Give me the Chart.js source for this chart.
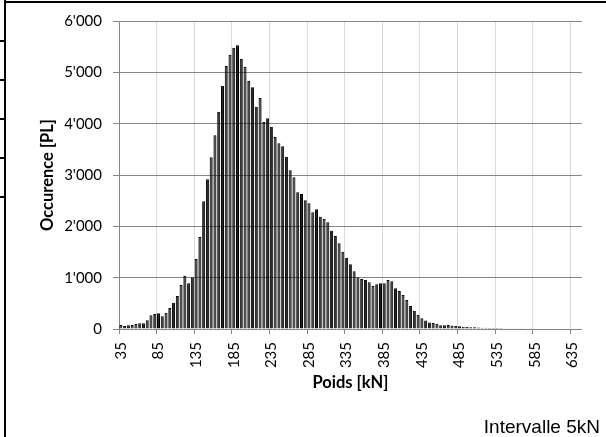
<!DOCTYPE html>
<html>
<head>
<meta charset="utf-8">
<script src="https://cdn.jsdelivr.net/npm/chart.js@4.4.1/dist/chart.umd.min.js"></script>
<style>
  html, body { margin: 0; padding: 0; background: #fff; }
  canvas { display: block; }
</style>
</head>
<body>

<canvas id="poidsChart" width="606" height="437"></canvas>

<script>

// classes de poids (kN), pas de 5kN
const classes = [];
for (let p = 35; p <= 645; p += 5) classes.push(String(p));

// nombre de PL par classe
const occurences = [
  78, 58, 75, 80, 95, 110, 110, 170, 266, 292,
  305, 250, 318, 410, 510, 643, 857, 1039, 890, 1006,
  1370, 1792, 2487, 2916, 3344, 3773, 4234, 4740, 5123, 5344,
  5481, 5526, 5260, 5110, 4838, 4708, 4331, 4500, 4032, 4104,
  3942, 3740, 3617, 3558, 3357, 3091, 2955, 2662, 2630, 2506,
  2448, 2273, 2331, 2188, 2149, 2078, 1916, 1812, 1669, 1506,
  1390, 1260, 1123, 1006, 974, 955, 909, 838, 870, 890,
  890, 955, 929, 792, 740, 662, 565, 448, 357, 280,
  210, 165, 127, 117, 104, 75, 72, 78, 70, 62,
  52, 45, 40, 34, 32, 28, 26, 25, 20, 20,
  18, 18, 17, 16, 15, 14, 15, 13, 12, 14,
  12, 11, 12, 10, 11, 10, 12, 9, 10, 11,
  9, 10, 8
];

const yTicks = [0, 1000, 2000, 3000, 4000, 5000, 6000];

function milliers(v) {
  return String(v).replace(/\B(?=(\d{3})+(?!\d))/g, "'");
}

// bordure du tableau autour du graphique + note en bas à droite
const cadre = {
  id: 'cadre',
  afterDraw(chart) {
    const ctx = chart.ctx;
    ctx.save();
    ctx.fillStyle = '#000';
    ctx.fillRect(4, 1, 602, 2);
    ctx.fillRect(4, 0, 2, 437);
    [40, 79, 118, 157, 196].forEach(y => ctx.fillRect(0, y, 5, 2));
    ctx.font = '19px "Liberation Sans", Arial, sans-serif';
    ctx.textAlign = 'right';
    ctx.textBaseline = 'alphabetic';
    ctx.fillText('Intervalle 5kN', 600, 433);
    ctx.restore();
  }
};

const grisAxe = '#868686';
const grisGrille = '#d9d9d9';

new Chart(document.getElementById('poidsChart'), {
  type: 'bar',
  data: {
    labels: classes,
    datasets: [{
      data: occurences,
      backgroundColor: '#1c1c1c',
      borderColor: '#000',
      borderWidth: 1,
      barPercentage: 0.8,
      categoryPercentage: 1
    }]
  },
  options: {
    responsive: false,
    animation: false,
    layout: { padding: { left: 0, top: 21, right: 24, bottom: 0 } },
    plugins: {
      legend: { display: false },
      tooltip: { enabled: false }
    },
    scales: {
      x: {
        offset: true,
        afterFit: s => { s.height = 108; },
        grid: {
          offset: true,
          color: c => (c.index % 10 === 0 ? grisGrille : 'transparent'),
          tickColor: c => (c.index % 10 === 0 ? grisAxe : 'transparent'),
          tickLength: 5
        },
        border: { color: grisAxe },
        ticks: {
          autoSkip: false,
          maxRotation: 90,
          minRotation: 90,
          padding: 8,
          color: '#000',
          font: { family: 'Lato', size: 15 },
          callback: (v, i) => (i % 10 === 0 ? classes[i] : '')
        },
        title: {
          display: true,
          text: 'Poids [kN]',
          color: '#000',
          font: { family: 'Lato', size: 16.5, weight: 'bold' },
          padding: { top: 0, bottom: 44 }
        }
      },
      y: {
        min: 0,
        max: 6000,
        afterFit: s => { s.width = 119; },
        afterBuildTicks: s => { s.ticks = yTicks.map(v => ({ value: v })); },
        grid: { color: grisAxe, tickColor: grisAxe, tickLength: 6 },
        border: { color: grisAxe },
        ticks: {
          padding: 11,
          color: '#000',
          font: { family: 'Lato', size: 15 },
          callback: v => milliers(v)
        },
        title: {
          display: true,
          text: 'Occurence [PL]',
          color: '#000',
          font: { family: 'Lato', size: 16.5, weight: 'bold' },
          padding: { top: 38, bottom: 0 }
        }
      }
    }
  },
  plugins: [cadre]
});

</script>

</body>
</html>
